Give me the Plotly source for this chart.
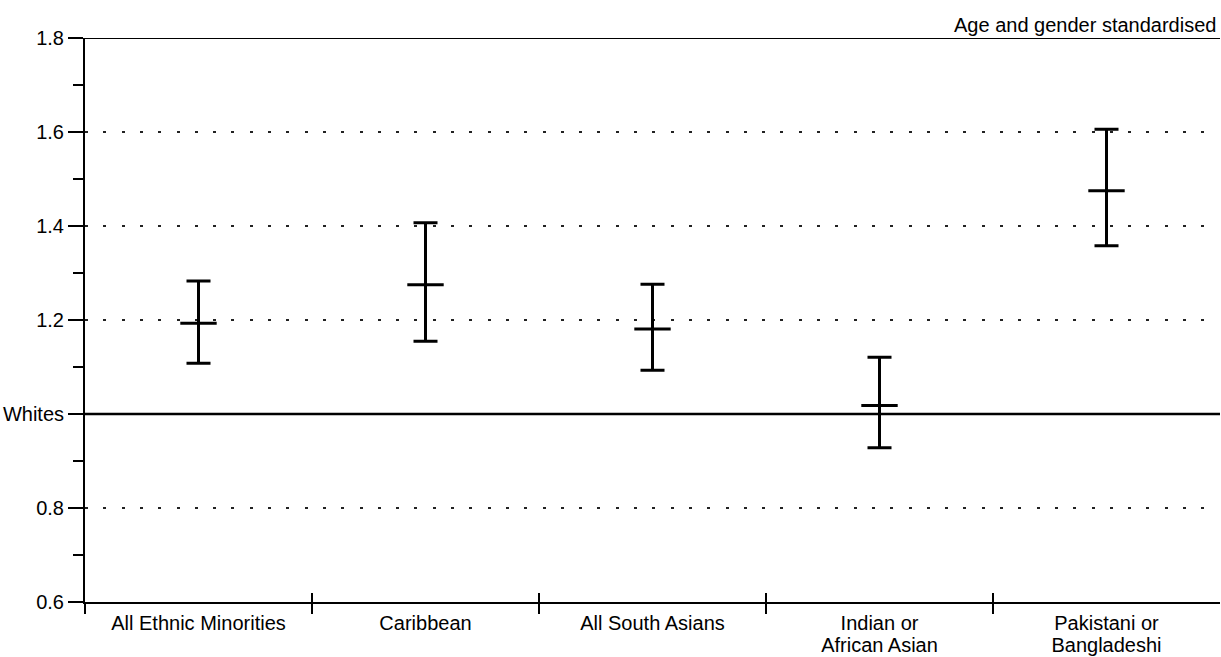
import plotly.graph_objects as go

# Ratios (age and gender standardised) relative to Whites, with confidence limits
groups = ["All Ethnic Minorities", "Caribbean", "All South Asians",
          "Indian or<br>African Asian", "Pakistani or<br>Bangladeshi"]
ratio = [1.193, 1.275, 1.181, 1.018, 1.475]
lower = [1.108, 1.155, 1.093, 0.928, 1.358]
upper = [1.283, 1.407, 1.276, 1.121, 1.606]

y_ticks = [0.6, 0.8, 1.0, 1.2, 1.4, 1.6, 1.8]
y_tick_text = ["0.6", "0.8", "Whites", "1.2", "1.4", "1.6", "1.8"]
y_minor = [0.7, 0.9, 1.1, 1.3, 1.5, 1.7]
reference_level = 1.0
y_top = 1.8

FONT = "Liberation Sans, Arial, sans-serif"
INK = "#000000"

pos = list(range(len(groups)))
bounds = [i - 0.5 for i in pos]
x_range = [-0.5, len(groups) - 0.5]

# category names are set on two rows with a tighter leading than <br> gives
first_rows = [g.split("<br>")[0] for g in groups]
second_rows = [g.split("<br>")[1] if "<br>" in g else "" for g in groups]

fig = go.Figure()
fig.add_trace(go.Scatter(
    x=pos, y=ratio, mode="markers",
    marker=dict(symbol="line-ew", size=26, color=INK,
                line=dict(width=3, color=INK)),
    error_y=dict(type="data", symmetric=False,
                 array=[u - r for u, r in zip(upper, ratio)],
                 arrayminus=[r - l for r, l in zip(ratio, lower)],
                 color=INK, thickness=3, width=12),
    showlegend=False, hoverinfo="skip",
))
# empty carrier traces so the overlaid axes are drawn
for ax in ("x2", "x3"):
    fig.add_trace(go.Scatter(x=[None], y=[None], xaxis=ax, yaxis="y",
                             mode="markers", showlegend=False, hoverinfo="skip"))

# solid reference lines at the Whites level and across the top
for level, w in [(reference_level, 2.5), (y_top, 2)]:
    fig.add_shape(type="line", xref="paper", yref="y", x0=0, x1=1,
                  y0=level, y1=level, line=dict(color=INK, width=w), layer="above")

fig.update_layout(
    width=1221, height=657,
    margin=dict(l=85, r=1, t=38, b=55),
    paper_bgcolor="white", plot_bgcolor="white",
    font=dict(family=FONT, size=20, color=INK),
    xaxis=dict(
        range=x_range, tickmode="array", tickvals=pos, ticktext=first_rows,
        ticks="", showline=True, linecolor=INK, linewidth=2,
        showgrid=False, zeroline=False, ticklabelstandoff=2,
        tickfont=dict(size=20), automargin=False,
        minor=dict(tickmode="array", tickvals=bounds, ticks="outside",
                   ticklen=10, tickwidth=2, tickcolor=INK, showgrid=False),
    ),
    xaxis2=dict(
        overlaying="x", anchor="y", side="bottom", range=x_range,
        tickmode="array", tickvals=bounds[1:], ticks="inside",
        ticklen=9, tickwidth=2, tickcolor=INK, showticklabels=False,
        showline=False, showgrid=False, zeroline=False, automargin=False,
    ),
    xaxis3=dict(
        overlaying="x", anchor="y", side="bottom", range=x_range,
        tickmode="array", tickvals=pos, ticktext=second_rows, ticks="",
        ticklabelstandoff=29, tickfont=dict(size=20),
        showline=False, showgrid=False, zeroline=False, automargin=False,
    ),
    yaxis=dict(
        range=[y_ticks[0], y_top], tickmode="array", tickvals=y_ticks,
        ticktext=y_tick_text, ticks="outside", ticklen=15, tickwidth=2,
        tickcolor=INK, showline=True, linecolor=INK, linewidth=2,
        showgrid=True, gridcolor="#222222", gridwidth=1.5, griddash="3px,15.3px",
        zeroline=False, tickfont=dict(size=20), automargin=False,
        minor=dict(tickmode="array", tickvals=y_minor, ticks="outside",
                   ticklen=10, tickwidth=2, tickcolor=INK, showgrid=False),
    ),
    annotations=[dict(
        text="Age and gender standardised", xref="paper", yref="paper",
        x=1, y=1, xanchor="right", yanchor="bottom", yshift=0, xshift=-2,
        showarrow=False, font=dict(size=20),
    )],
)

fig.write_html("out.html")
